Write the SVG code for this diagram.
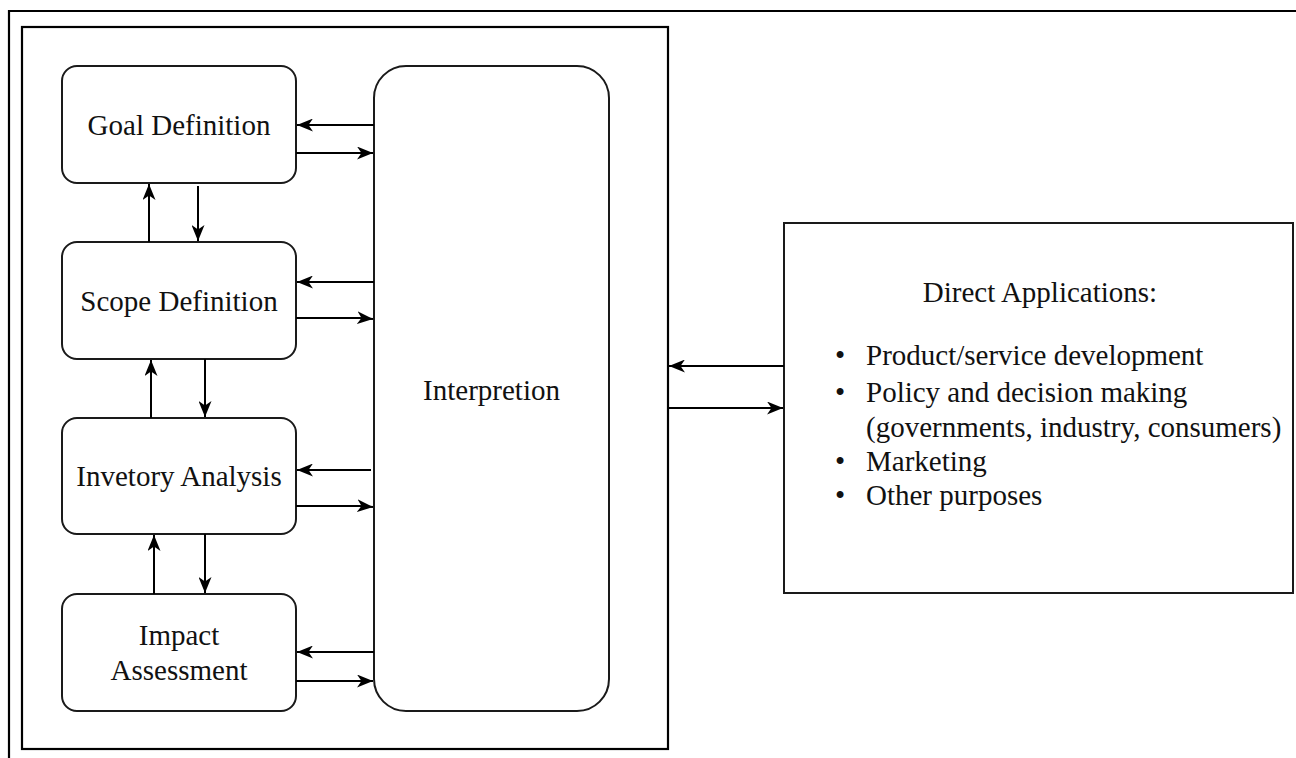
<svg xmlns="http://www.w3.org/2000/svg" width="1296" height="758" viewBox="0 0 1296 758">
  <style>
    .frame { fill: none; stroke: #000; stroke-width: 2.2; }
    .box { fill: #fff; stroke: #1a1a1a; stroke-width: 2; }
    .lbl { font-family: "Liberation Serif", "Times New Roman", serif; font-size: 29px; fill: #111; }
    .mid { text-anchor: middle; }
    .edge { fill: none; stroke: #000; stroke-width: 2; marker-end: url(#ah); }
  </style>
  <defs>
    <marker id="ah" viewBox="0 0 16 13" markerWidth="16" markerHeight="13" refX="16" refY="6.5" orient="auto" markerUnits="userSpaceOnUse">
      <path d="M0,0 L16,6.5 L0,13 L4.5,6.5 Z" fill="#000"/>
    </marker>
  </defs>
  <rect width="1296" height="758" fill="#fff"/>

  <g id="outer-frame">
    <path class="frame" d="M9,758 L9,11 L1296,11"/>
  </g>

  <g id="lca-container">
    <rect class="frame" x="22" y="27" width="646" height="722"/>
  </g>

  <g id="goal">
    <rect class="box" x="62" y="66" width="234" height="117" rx="15" ry="15"/>
    <text class="lbl mid" x="179" y="135">Goal Definition</text>
  </g>
  <g id="scope">
    <rect class="box" x="62" y="242" width="234" height="117" rx="15" ry="15"/>
    <text class="lbl mid" x="179" y="311">Scope Definition</text>
  </g>
  <g id="inventory">
    <rect class="box" x="62" y="418" width="234" height="116" rx="15" ry="15"/>
    <text class="lbl mid" x="179" y="486">Invetory Analysis</text>
  </g>
  <g id="impact">
    <rect class="box" x="62" y="594" width="234" height="117" rx="15" ry="15"/>
    <text class="lbl mid" x="179" y="645">Impact</text>
    <text class="lbl mid" x="179" y="680">Assessment</text>
  </g>
  <g id="interpretation">
    <rect class="box" x="374" y="66" width="235" height="645" rx="32" ry="32"/>
    <text class="lbl mid" x="491.5" y="400">Interpretion</text>
  </g>
  <g id="direct-applications">
    <rect class="box" x="784" y="223" width="509" height="370"/>
    <text class="lbl mid" x="1040" y="302">Direct Applications:</text>
    <text class="lbl mid" x="840" y="365">•</text>
    <text class="lbl" x="866" y="365">Product/service development</text>
    <text class="lbl mid" x="840" y="402">•</text>
    <text class="lbl" x="866" y="402">Policy and decision making</text>
    <text class="lbl" x="866" y="437">(governments, industry, consumers)</text>
    <text class="lbl mid" x="840" y="471">•</text>
    <text class="lbl" x="866" y="471">Marketing</text>
    <text class="lbl mid" x="840" y="505">•</text>
    <text class="lbl" x="866" y="505">Other purposes</text>
  </g>

  <g id="connectors">
    <line class="edge" x1="374" y1="125" x2="297" y2="125"/>
    <line class="edge" x1="296" y1="153" x2="373" y2="153"/>
    <line class="edge" x1="374" y1="282" x2="297" y2="282"/>
    <path class="edge" d="M296,318 L360,318 L373,319"/>
    <line class="edge" x1="371" y1="470" x2="297" y2="470"/>
    <path class="edge" d="M296,506 L360,506 L373,507"/>
    <line class="edge" x1="374" y1="652" x2="297" y2="652"/>
    <line class="edge" x1="296" y1="681" x2="373" y2="681"/>
    <line class="edge" x1="149" y1="242" x2="149" y2="184"/>
    <line class="edge" x1="198" y1="186" x2="198" y2="241"/>
    <line class="edge" x1="151" y1="418" x2="151" y2="360"/>
    <line class="edge" x1="205" y1="359" x2="205" y2="417"/>
    <line class="edge" x1="154" y1="594" x2="154" y2="535"/>
    <line class="edge" x1="205" y1="534" x2="205" y2="593"/>
    <line class="edge" x1="784" y1="366" x2="669" y2="366"/>
    <line class="edge" x1="668" y1="408" x2="783" y2="408"/>
  </g>
</svg>
